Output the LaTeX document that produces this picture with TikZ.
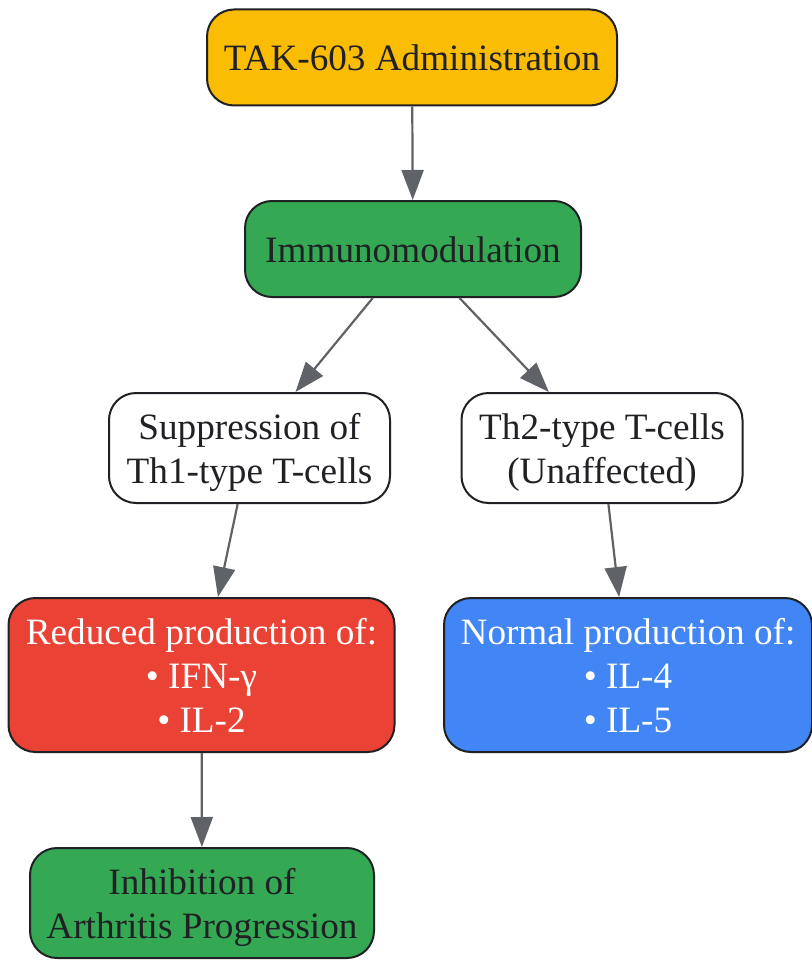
\documentclass[tikz,border=0pt]{standalone}
\usepackage{fontspec}
\setmainfont{Liberation Serif}
\usetikzlibrary{arrows.meta}
\definecolor{cyellow}{HTML}{FBBC04}
\definecolor{cgreen}{HTML}{34A853}
\definecolor{cred}{HTML}{EA4335}
\definecolor{cblue}{HTML}{4285F4}
\definecolor{cdark}{HTML}{202124}
\definecolor{cedge}{HTML}{5F6368}
\newcommand\topS{\rule{0pt}{35pt}}
\newcommand\botS{\rule[-8pt]{0pt}{8pt}}
\begin{document}
\begin{tikzpicture}[x=1pt,y=-1pt,
  box/.style={draw=cdark, line width=2pt, rounded corners=27pt, align=center,
    inner sep=0pt, font=\fontsize{37.2}{44}\selectfont, text=cdark},
  edge/.style={draw=cedge, line width=2.2pt, -{Triangle[length=30pt,width=22pt]}}]
\useasboundingbox (0,0) rectangle (811,960);
\node[box, fill=cyellow, minimum width=410pt, minimum height=96pt] (a) at (412,57.5) {\topS TAK-603 Administration\botS};
\node[box, fill=cgreen, minimum width=336pt, minimum height=96pt] (b) at (413,249) {\topS Immunomodulation\botS};
\node[box, fill=white, minimum width=281pt, minimum height=110pt] (c) at (249.5,448) {\topS Suppression of\\Th1-type T-cells\botS};
\node[box, fill=white, minimum width=281pt, minimum height=110pt] (d) at (602,448) {\topS Th2-type T-cells\\(Unaffected)\botS};
\node[box, fill=cred, text=white, minimum width=386pt, minimum height=154pt] (e) at (201.5,675) {\topS Reduced production of:\\• IFN-γ\\• IL-2\botS};
\node[box, fill=cblue, text=white, minimum width=368pt, minimum height=154pt] (f) at (628,675) {\topS Normal production of:\\• IL-4\\• IL-5\botS};
\node[box, fill=cgreen, minimum width=344pt, minimum height=110pt] (g) at (202,903) {\topS Inhibition of\\Arthritis Progression\botS};
\draw[edge] (a) -- (b);
\draw[edge] (b) -- (c);
\draw[edge] (b) -- (d);
\draw[edge] (c) -- (e);
\draw[edge] (d) -- (f);
\draw[edge] (e) -- (g);
\end{tikzpicture}
\end{document}
